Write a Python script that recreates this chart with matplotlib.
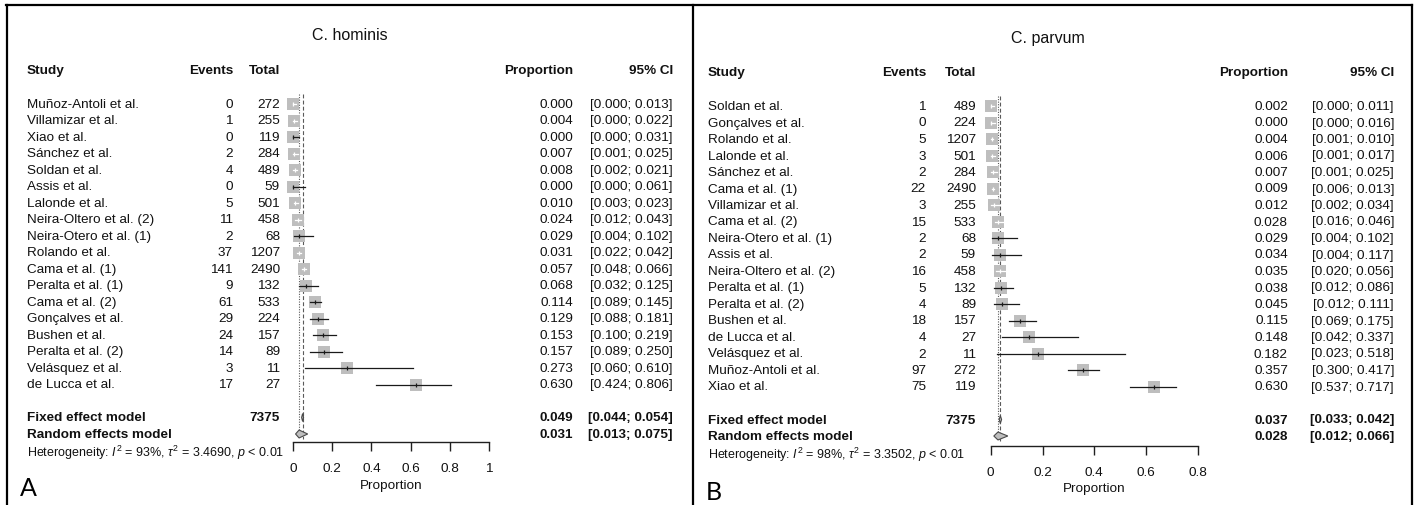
import numpy as np
import matplotlib
matplotlib.use("Agg")
import matplotlib.pyplot as plt
from matplotlib import transforms
from matplotlib.patches import Polygon
from matplotlib.lines import Line2D

plt.rcParams['font.family'] = ['Liberation Sans', 'DejaVu Sans']
plt.rcParams['mathtext.fontset'] = 'custom'
plt.rcParams['mathtext.rm'] = 'Liberation Sans'
plt.rcParams['mathtext.it'] = 'Liberation Sans:italic'
plt.rcParams['mathtext.bf'] = 'Liberation Sans:bold'

# ---------------- C. hominis ----------------
studies_a = ["Muñoz-Antoli et al.", "Villamizar et al.", "Xiao et al.", "Sánchez et al.",
             "Soldan et al.", "Assis et al.", "Lalonde et al.", "Neira-Oltero et al. (2)",
             "Neira-Otero et al. (1)", "Rolando et al.", "Cama et al. (1)", "Peralta et al. (1)",
             "Cama et al. (2)", "Gonçalves et al.", "Bushen et al.", "Peralta et al. (2)",
             "Velásquez et al.", "de Lucca et al."]
events_a = [0, 1, 0, 2, 4, 0, 5, 11, 2, 37, 141, 9, 61, 29, 24, 14, 3, 17]
totals_a = [272, 255, 119, 284, 489, 59, 501, 458, 68, 1207, 2490, 132, 533, 224, 157, 89, 11, 27]
prop_a = [0.000, 0.004, 0.000, 0.007, 0.008, 0.000, 0.010, 0.024, 0.029, 0.031, 0.057, 0.068,
          0.114, 0.129, 0.153, 0.157, 0.273, 0.630]
lower_a = [0.000, 0.000, 0.000, 0.001, 0.002, 0.000, 0.003, 0.012, 0.004, 0.022, 0.048, 0.032,
           0.089, 0.088, 0.100, 0.089, 0.060, 0.424]
upper_a = [0.013, 0.022, 0.031, 0.025, 0.021, 0.061, 0.023, 0.043, 0.102, 0.042, 0.066, 0.125,
           0.145, 0.181, 0.219, 0.250, 0.610, 0.806]
fixed_a = (0.049, 0.044, 0.054)
random_a = (0.031, 0.013, 0.075)
i2_a, tau2_a = "93%", "3.4690"
ticks_a = [0, 0.2, 0.4, 0.6, 0.8, 1]
ticklabels_a = ["0", "0.2", "0.4", "0.6", "0.8", "1"]

# ---------------- C. parvum ----------------
studies_b = ["Soldan et al.", "Gonçalves et al.", "Rolando et al.", "Lalonde et al.",
             "Sánchez et al.", "Cama et al. (1)", "Villamizar et al.", "Cama et al. (2)",
             "Neira-Otero et al. (1)", "Assis et al.", "Neira-Oltero et al. (2)",
             "Peralta et al. (1)", "Peralta et al. (2)", "Bushen et al.", "de Lucca et al.",
             "Velásquez et al.", "Muñoz-Antoli et al.", "Xiao et al."]
events_b = [1, 0, 5, 3, 2, 22, 3, 15, 2, 2, 16, 5, 4, 18, 4, 2, 97, 75]
totals_b = [489, 224, 1207, 501, 284, 2490, 255, 533, 68, 59, 458, 132, 89, 157, 27, 11, 272, 119]
prop_b = [0.002, 0.000, 0.004, 0.006, 0.007, 0.009, 0.012, 0.028, 0.029, 0.034, 0.035, 0.038,
          0.045, 0.115, 0.148, 0.182, 0.357, 0.630]
lower_b = [0.000, 0.000, 0.001, 0.001, 0.001, 0.006, 0.002, 0.016, 0.004, 0.004, 0.020, 0.012,
           0.012, 0.069, 0.042, 0.023, 0.300, 0.537]
upper_b = [0.011, 0.016, 0.010, 0.017, 0.025, 0.013, 0.034, 0.046, 0.102, 0.117, 0.056, 0.086,
           0.111, 0.175, 0.337, 0.518, 0.417, 0.717]
fixed_b = (0.037, 0.033, 0.042)
random_b = (0.028, 0.012, 0.066)
i2_b, tau2_b = "98%", "3.3502"
ticks_b = [0, 0.2, 0.4, 0.6, 0.8]
ticklabels_b = ["0", "0.2", "0.4", "0.6", "0.8"]

W, H = 1416, 506
fig = plt.figure(figsize=(W / 100, H / 100), dpi=100)

SQ_COL = "#BEBEBE"
LINE_COL = "#1a1a1a"
TXT_COL = "#111111"
FS = 9.7


def forest(L, title, letter, studies, events, totals, prop, lower, upper,
           fixed, rand, i2, tau2, ticks, ticklabels):
    n = len(studies)
    x0, x1 = L["x0"], L["x1"]
    ax = fig.add_axes([x0 / W, 1 - L["axis_y"] / H, (x1 - x0) / W,
                       (L["axis_y"] - L["top_y"]) / H])
    ax.set_xlim(ticks[0], ticks[-1])
    ax.set_ylim((L["axis_y"] - L["row0"]) / L["dy"], (L["top_y"] - L["row0"]) / L["dy"])
    ax.patch.set_visible(False)
    for s in ("top", "left", "right"):
        ax.spines[s].set_visible(False)
    ax.spines["bottom"].set_linewidth(1.0)
    ax.spines["bottom"].set_color("#202020")
    ax.set_yticks([])
    ax.set_xticks(ticks)
    ax.set_xticklabels(ticklabels, fontsize=FS, color=TXT_COL)
    ax.tick_params(axis="x", length=6.5, width=1.0, pad=8, color="#202020")
    ax.set_xlabel("Proportion", fontsize=FS, color=TXT_COL)
    ax.xaxis.set_label_coords(0.5, -(L["xlab_y"] - L["axis_y"]) / (L["axis_y"] - L["top_y"]))
    ax.xaxis.label.set_va("center")

    rows = np.arange(n)
    fixed_row, random_row = n + 1, n + 2

    # reference lines for the pooled estimates
    ax.vlines(fixed[0], ax.get_ylim()[1], random_row + 0.3, colors="#5a5a5a",
              linestyles=(0, (3.5, 2)), lw=0.8, zorder=1)
    ax.vlines(rand[0], ax.get_ylim()[1], random_row + 0.3, colors="#5a5a5a",
              linestyles=(0, (1, 1.3)), lw=0.8, zorder=1)

    side_px = 12
    ax.scatter(prop, rows, marker="s", s=(side_px * 0.72) ** 2, color=SQ_COL,
               linewidths=0, zorder=2, clip_on=False)
    ppu = ax.bbox.width / (ticks[-1] - ticks[0])
    for r, p, lo, hi in zip(rows, prop, lower, upper):
        inside = (p - lo) * ppu < side_px / 2 and (hi - p) * ppu < side_px / 2
        c = "white" if inside else LINE_COL
        ax.plot([lo, hi], [r, r], color=c, lw=0.9, zorder=3, clip_on=False)
        ax.plot([p], [r], marker="|", ms=3.5, mew=0.9, color=c, zorder=4, clip_on=False)

    h = 0.24
    for row, (est, lo, hi) in ((fixed_row, fixed), (random_row, rand)):
        ax.add_patch(Polygon([(lo, row), (est, row - h), (hi, row), (est, row + h)],
                             closed=True, facecolor=SQ_COL, edgecolor="#4a4a4a",
                             lw=0.8, zorder=3, clip_on=False))

    tr = transforms.blended_transform_factory(fig.transFigure, ax.transData)

    def txt(xpx, row, s, ha="left", **kw):
        ax.text(xpx / W, row, s, transform=tr, ha=ha, va="center", color=TXT_COL,
                fontsize=kw.pop("fontsize", FS), clip_on=False, **kw)

    hdr = (L["hdr_y"] - L["row0"]) / L["dy"]
    txt(L["study_x"], hdr, "Study", weight="bold")
    txt(L["events_r"], hdr, "Events", ha="right", weight="bold")
    txt(L["total_r"], hdr, "Total", ha="right", weight="bold")
    txt(L["prop_r"], hdr, "Proportion", ha="right", weight="bold")
    txt(L["ci_r"], hdr, "95% CI", ha="right", weight="bold")

    for r, s, e, t, p, lo, hi in zip(rows, studies, events, totals, prop, lower, upper):
        txt(L["study_x"], r, s)
        txt(L["events_r"], r, str(e), ha="right")
        txt(L["total_r"], r, str(t), ha="right")
        txt(L["prop_r"], r, f"{p:.3f}", ha="right")
        txt(L["ci_r"], r, f"[{lo:.3f}; {hi:.3f}]", ha="right")

    txt(L["study_x"], fixed_row, "Fixed effect model", weight="bold")
    txt(L["total_r"], fixed_row, str(sum(totals)), ha="right", weight="bold")
    txt(L["prop_r"], fixed_row, f"{fixed[0]:.3f}", ha="right", weight="bold")
    txt(L["ci_r"], fixed_row, f"[{fixed[1]:.3f}; {fixed[2]:.3f}]", ha="right", weight="bold")
    txt(L["study_x"], random_row, "Random effects model", weight="bold")
    txt(L["prop_r"], random_row, f"{rand[0]:.3f}", ha="right", weight="bold")
    txt(L["ci_r"], random_row, f"[{rand[1]:.3f}; {rand[2]:.3f}]", ha="right", weight="bold")

    het = (L["het_y"] - L["row0"]) / L["dy"]
    txt(L["study_x"], het,
        r"Heterogeneity: $\mathit{I}^{2}$ = " + i2 +
        r", $\tau^{2}$ = " + tau2 + r", $\mathit{p}$ < 0.01", fontsize=9.0)

    fig.text(L["title_x"] / W, 1 - L["title_y"] / H, title, ha="center", va="center",
             fontsize=11.5, color=TXT_COL)
    fig.text(L["letter_x"] / W, 1 - L["letter_y"] / H, letter, ha="left", va="center",
             fontsize=18, family=["Lato", "DejaVu Sans"])


layout_a = dict(x0=293, x1=489, top_y=95, axis_y=443, row0=105, dy=16.5, hdr_y=71,
                study_x=27, events_r=233, total_r=280, prop_r=573, ci_r=673,
                het_y=453, xlab_y=486, title_x=350, title_y=35, letter_x=20, letter_y=489)
layout_b = dict(x0=990.7, x1=1198, top_y=97, axis_y=447, row0=107, dy=16.5, hdr_y=73,
                study_x=708, events_r=926, total_r=976, prop_r=1288, ci_r=1394,
                het_y=455, xlab_y=489, title_x=1048, title_y=38, letter_x=706, letter_y=493)

forest(layout_a, "C. hominis", "A", studies_a, events_a, totals_a, prop_a, lower_a, upper_a,
       fixed_a, random_a, i2_a, tau2_a, ticks_a, ticklabels_a)
forest(layout_b, "C. parvum", "B", studies_b, events_b, totals_b, prop_b, lower_b, upper_b,
       fixed_b, random_b, i2_b, tau2_b, ticks_b, ticklabels_b)

# panel frame
frame = dict(color="black", lw=1.6, transform=fig.transFigure)
for (xa, ya, xb, yb) in [(6, 6, 1412, 6), (7, 6, 7, 506), (693, 6, 693, 506),
                         (1412, 6, 1412, 506)]:
    fig.add_artist(Line2D([xa / W, xb / W], [1 - ya / H, 1 - yb / H], **frame))

fig.savefig("out.png", dpi=100)
